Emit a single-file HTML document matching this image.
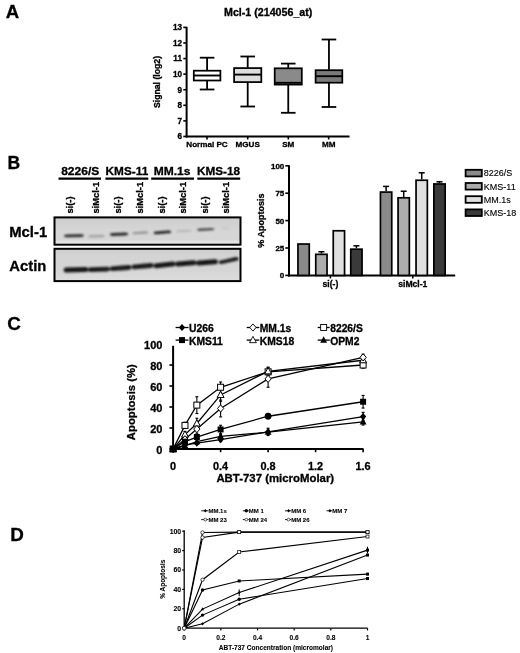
<!DOCTYPE html>
<html><head><meta charset="utf-8"><style>
html,body{margin:0;padding:0;background:#fff;}
body{width:520px;height:653px;overflow:hidden;}
svg{display:block;font-family:"Liberation Sans",sans-serif;filter:grayscale(1) blur(0.3px);}
text[font-weight="bold"]{stroke:#000;stroke-width:0.3px;}
text.sm{stroke-width:0.08px;}
text[font-weight="normal"]{stroke:#000;stroke-width:0.12px;}
</style></head><body>
<svg width="520" height="653" viewBox="0 0 520 653">
<rect width="520" height="653" fill="#fff"/>
<text x="5.8" y="17.9" font-size="18.6" text-anchor="start" font-weight="bold" >A</text>
<text x="224" y="15.6" font-size="10" text-anchor="start" font-weight="bold"  textLength="88.4" lengthAdjust="spacingAndGlyphs">Mcl-1 (214056_at)</text>
<line x1="186.6" y1="26.8" x2="186.6" y2="137.46" stroke="#000" stroke-width="2"/>
<line x1="185.6" y1="136.46" x2="349.5" y2="136.46" stroke="#000" stroke-width="2"/>
<line x1="183.3" y1="136.46" x2="186.6" y2="136.46" stroke="#000" stroke-width="1.6"/>
<text x="182" y="139.36" font-size="8.2" text-anchor="end" font-weight="bold" >6</text>
<line x1="183.3" y1="120.88" x2="186.6" y2="120.88" stroke="#000" stroke-width="1.6"/>
<text x="182" y="123.78" font-size="8.2" text-anchor="end" font-weight="bold" >7</text>
<line x1="183.3" y1="105.3" x2="186.6" y2="105.3" stroke="#000" stroke-width="1.6"/>
<text x="182" y="108.2" font-size="8.2" text-anchor="end" font-weight="bold" >8</text>
<line x1="183.3" y1="89.72" x2="186.6" y2="89.72" stroke="#000" stroke-width="1.6"/>
<text x="182" y="92.62" font-size="8.2" text-anchor="end" font-weight="bold" >9</text>
<line x1="183.3" y1="74.14" x2="186.6" y2="74.14" stroke="#000" stroke-width="1.6"/>
<text x="182" y="77.04" font-size="8.2" text-anchor="end" font-weight="bold" >10</text>
<line x1="183.3" y1="58.56" x2="186.6" y2="58.56" stroke="#000" stroke-width="1.6"/>
<text x="182" y="61.46" font-size="8.2" text-anchor="end" font-weight="bold" >11</text>
<line x1="183.3" y1="42.98" x2="186.6" y2="42.98" stroke="#000" stroke-width="1.6"/>
<text x="182" y="45.88" font-size="8.2" text-anchor="end" font-weight="bold" >12</text>
<line x1="183.3" y1="27.4" x2="186.6" y2="27.4" stroke="#000" stroke-width="1.6"/>
<text x="182" y="30.3" font-size="8.2" text-anchor="end" font-weight="bold" >13</text>
<text transform="translate(159.5,82) rotate(-90)" font-size="8.7" text-anchor="middle" font-weight="bold">Signal (log2)</text>
<line x1="207" y1="136.46" x2="207" y2="139.46" stroke="#000" stroke-width="1.6"/>
<text x="207" y="147.2" font-size="8.1" text-anchor="middle" font-weight="bold" >Normal PC</text>
<line x1="247.7" y1="136.46" x2="247.7" y2="139.46" stroke="#000" stroke-width="1.6"/>
<text x="247.7" y="147.2" font-size="8.1" text-anchor="middle" font-weight="bold" >MGUS</text>
<line x1="288.3" y1="136.46" x2="288.3" y2="139.46" stroke="#000" stroke-width="1.6"/>
<text x="288.3" y="147.2" font-size="8.1" text-anchor="middle" font-weight="bold" >SM</text>
<line x1="328.7" y1="136.46" x2="328.7" y2="139.46" stroke="#000" stroke-width="1.6"/>
<text x="328.7" y="147.2" font-size="8.1" text-anchor="middle" font-weight="bold" >MM</text>
<line x1="207.1" y1="57.7" x2="207.1" y2="70.2" stroke="#000" stroke-width="1.8"/>
<line x1="207.1" y1="80.8" x2="207.1" y2="89.5" stroke="#000" stroke-width="1.8"/>
<line x1="199.8" y1="57.7" x2="214.4" y2="57.7" stroke="#000" stroke-width="1.8"/>
<line x1="199.8" y1="89.5" x2="214.4" y2="89.5" stroke="#000" stroke-width="1.8"/>
<rect x="193.8" y="70.7" width="26.6" height="9.8" fill="#ffffff" stroke="#000" stroke-width="1.75"/>
<line x1="193.8" y1="75.5" x2="220.4" y2="75.5" stroke="#000" stroke-width="1.9"/>
<line x1="247.7" y1="56.5" x2="247.7" y2="67.6" stroke="#000" stroke-width="1.8"/>
<line x1="247.7" y1="82.4" x2="247.7" y2="106.5" stroke="#000" stroke-width="1.8"/>
<line x1="240.4" y1="56.5" x2="255" y2="56.5" stroke="#000" stroke-width="1.8"/>
<line x1="240.4" y1="106.5" x2="255" y2="106.5" stroke="#000" stroke-width="1.8"/>
<rect x="234.1" y="68.1" width="27.2" height="14" fill="#dedede" stroke="#000" stroke-width="1.75"/>
<line x1="234.1" y1="74.6" x2="261.3" y2="74.6" stroke="#000" stroke-width="1.9"/>
<line x1="288.25" y1="63.6" x2="288.25" y2="67.8" stroke="#000" stroke-width="1.8"/>
<line x1="288.25" y1="84.9" x2="288.25" y2="112.8" stroke="#000" stroke-width="1.8"/>
<line x1="280.95" y1="63.6" x2="295.55" y2="63.6" stroke="#000" stroke-width="1.8"/>
<line x1="280.95" y1="112.8" x2="295.55" y2="112.8" stroke="#000" stroke-width="1.8"/>
<rect x="274.7" y="68.3" width="27.1" height="16.3" fill="#8a8a8a" stroke="#000" stroke-width="1.75"/>
<line x1="274.7" y1="82.8" x2="301.8" y2="82.8" stroke="#000" stroke-width="1.9"/>
<line x1="328.95" y1="39.5" x2="328.95" y2="69.7" stroke="#000" stroke-width="1.8"/>
<line x1="328.95" y1="83" x2="328.95" y2="107" stroke="#000" stroke-width="1.8"/>
<line x1="321.65" y1="39.5" x2="336.25" y2="39.5" stroke="#000" stroke-width="1.8"/>
<line x1="321.65" y1="107" x2="336.25" y2="107" stroke="#000" stroke-width="1.8"/>
<rect x="315.6" y="70.2" width="26.7" height="12.5" fill="#7a7a7a" stroke="#000" stroke-width="1.75"/>
<line x1="315.6" y1="76.2" x2="342.3" y2="76.2" stroke="#000" stroke-width="1.9"/>
<text x="7.5" y="168.8" font-size="17.5" text-anchor="start" font-weight="bold" >B</text>
<text x="80.2" y="174.6" font-size="11.4" text-anchor="middle" font-weight="bold"  textLength="38.1" lengthAdjust="spacingAndGlyphs">8226/S</text>
<line x1="58.5" y1="178.6" x2="101" y2="178.6" stroke="#000" stroke-width="2.1"/>
<text x="126.9" y="174.6" font-size="11.4" text-anchor="middle" font-weight="bold"  textLength="42.6" lengthAdjust="spacingAndGlyphs">KMS-11</text>
<line x1="105.4" y1="178.6" x2="148.3" y2="178.6" stroke="#000" stroke-width="2.1"/>
<text x="172.1" y="174.6" font-size="11.4" text-anchor="middle" font-weight="bold"  textLength="36.8" lengthAdjust="spacingAndGlyphs">MM.1s</text>
<line x1="151.2" y1="178.6" x2="194" y2="178.6" stroke="#000" stroke-width="2.1"/>
<text x="218.5" y="174.6" font-size="11.4" text-anchor="middle" font-weight="bold"  textLength="43.1" lengthAdjust="spacingAndGlyphs">KMS-18</text>
<line x1="197.3" y1="178.6" x2="240.2" y2="178.6" stroke="#000" stroke-width="2.1"/>
<text transform="translate(72.8,213.6) rotate(-90)" font-size="9.4" text-anchor="start" font-weight="bold">si(-)</text>
<text transform="translate(98.8,213.6) rotate(-90)" font-size="9.4" text-anchor="start" font-weight="bold">siMcl-1</text>
<text transform="translate(120.9,213.6) rotate(-90)" font-size="9.4" text-anchor="start" font-weight="bold">si(-)</text>
<text transform="translate(143,213.6) rotate(-90)" font-size="9.4" text-anchor="start" font-weight="bold">siMcl-1</text>
<text transform="translate(164.7,213.6) rotate(-90)" font-size="9.4" text-anchor="start" font-weight="bold">si(-)</text>
<text transform="translate(185.9,213.6) rotate(-90)" font-size="9.4" text-anchor="start" font-weight="bold">siMcl-1</text>
<text transform="translate(207.6,213.6) rotate(-90)" font-size="9.4" text-anchor="start" font-weight="bold">si(-)</text>
<text transform="translate(229.2,213.6) rotate(-90)" font-size="9.4" text-anchor="start" font-weight="bold">siMcl-1</text>
<text x="9.3" y="237" font-size="14.8" text-anchor="start" font-weight="bold" >Mcl-1</text>
<text x="9.3" y="270.8" font-size="14.8" text-anchor="start" font-weight="bold" >Actin</text>
<defs><linearGradient id="g1" x1="0" y1="0" x2="0" y2="1"><stop offset="0" stop-color="#cecece"/><stop offset="0.5" stop-color="#d6d6d6"/><stop offset="0.82" stop-color="#d6d6d6"/><stop offset="0.9" stop-color="#e2e2e2"/><stop offset="1" stop-color="#e4e4e4"/></linearGradient><linearGradient id="g2" x1="0" y1="0" x2="0" y2="1"><stop offset="0" stop-color="#cbcbcb"/><stop offset="0.2" stop-color="#d3d3d3"/><stop offset="0.7" stop-color="#d6d6d6"/><stop offset="1" stop-color="#dcdcdc"/></linearGradient><filter id="bl" x="-20%" y="-100%" width="140%" height="300%"><feGaussianBlur stdDeviation="0.8"/></filter></defs>
<rect x="54.5" y="217.4" width="186" height="27.3" fill="url(#g1)" stroke="#000" stroke-width="2"/>
<rect x="54.5" y="248.8" width="186" height="32.3" fill="url(#g2)" stroke="#000" stroke-width="2"/>
<g filter="url(#bl)">
<path d="M64,235.9 C64.66,234.45 66.2,234.45 67.3,234.45 L80.7,234.15 C81.8,234.15 83.34,234.15 84,235.6 C83.34,237.05 81.8,237.05 80.7,237.05 L67.3,237.35 C66.2,237.35 64.66,237.35 64,235.9 Z" fill="#2a2a2a"/>
<path d="M88,236.2 C88.66,235 90.2,235 91.3,235 L101.7,234.8 C102.8,234.8 104.34,234.8 105,236 C104.34,237.2 102.8,237.2 101.7,237.2 L91.3,237.4 C90.2,237.4 88.66,237.4 88,236.2 Z" fill="#a4a4a4"/>
<path d="M109.8,234.5 C110.46,233.1 112,233.1 113.1,233.1 L125,232.6 C126.1,232.6 127.64,232.6 128.3,234 C127.64,235.4 126.1,235.4 125,235.4 L113.1,235.9 C112,235.9 110.46,235.9 109.8,234.5 Z" fill="#2a2a2a"/>
<path d="M132.2,233.1 C132.86,231.9 134.4,231.9 135.5,231.9 L145.2,231.3 C146.3,231.3 147.84,231.3 148.5,232.5 C147.84,233.7 146.3,233.7 145.2,233.7 L135.5,234.3 C134.4,234.3 132.86,234.3 132.2,233.1 Z" fill="#959595"/>
<path d="M153.5,232.9 C154.16,231.5 155.7,231.5 156.8,231.5 L167.9,230.5 C169,230.5 170.54,230.5 171.2,231.9 C170.54,233.3 169,233.3 167.9,233.3 L156.8,234.3 C155.7,234.3 154.16,234.3 153.5,232.9 Z" fill="#222222"/>
<path d="M175.8,231.3 C176.46,230.3 178,230.3 179.1,230.3 L188.7,229.8 C189.8,229.8 191.34,229.8 192,230.8 C191.34,231.8 189.8,231.8 188.7,231.8 L179.1,232.3 C178,232.3 176.46,232.3 175.8,231.3 Z" fill="#b6b6b6"/>
<path d="M197,229.7 C197.66,228.5 199.2,228.5 200.3,228.5 L211.2,227.9 C212.3,227.9 213.84,227.9 214.5,229.1 C213.84,230.3 212.3,230.3 211.2,230.3 L200.3,230.9 C199.2,230.9 197.66,230.9 197,229.7 Z" fill="#484848"/>
<path d="M220.5,228.6 C221.16,227.8 222.7,227.8 223.8,227.8 L226.7,227.5 C227.8,227.5 229.34,227.5 230,228.3 C229.34,229.1 227.8,229.1 226.7,229.1 L223.8,229.4 C222.7,229.4 221.16,229.4 220.5,228.6 Z" fill="#c4c4c4"/>
<path d="M63.5,269.9 C64.16,267.4 65.7,267.4 66.8,267.4 L85.1,267 C86.2,267 87.74,267 88.4,269.5 C87.74,272 86.2,272 85.1,272 L66.8,272.4 C65.7,272.4 64.16,272.4 63.5,269.9 Z" fill="#181818"/>
<path d="M87.8,269.7 C88.46,267.3 90,267.3 91.1,267.3 L106.9,266.7 C108,266.7 109.54,266.7 110.2,269.1 C109.54,271.5 108,271.5 106.9,271.5 L91.1,272.1 C90,272.1 88.46,272.1 87.8,269.7 Z" fill="#1a1a1a"/>
<path d="M109.8,268.7 C110.46,266.3 112,266.3 113.1,266.3 L128.3,265.1 C129.4,265.1 130.94,265.1 131.6,267.5 C130.94,269.9 129.4,269.9 128.3,269.9 L113.1,271.1 C112,271.1 110.46,271.1 109.8,268.7 Z" fill="#1a1a1a"/>
<path d="M131.4,266.9 C132.06,264.5 133.6,264.5 134.7,264.5 L150.5,263.1 C151.6,263.1 153.14,263.1 153.8,265.5 C153.14,267.9 151.6,267.9 150.5,267.9 L134.7,269.3 C133.6,269.3 132.06,269.3 131.4,266.9 Z" fill="#1a1a1a"/>
<path d="M153.4,265.7 C154.06,263.2 155.6,263.2 156.7,263.2 L172.3,261.6 C173.4,261.6 174.94,261.6 175.6,264.1 C174.94,266.6 173.4,266.6 172.3,266.6 L156.7,268.2 C155.6,268.2 154.06,268.2 153.4,265.7 Z" fill="#181818"/>
<path d="M175,264.1 C175.66,261.6 177.2,261.6 178.3,261.6 L193.1,260.2 C194.2,260.2 195.74,260.2 196.4,262.7 C195.74,265.2 194.2,265.2 193.1,265.2 L178.3,266.6 C177.2,266.6 175.66,266.6 175,264.1 Z" fill="#181818"/>
<path d="M195.8,263.1 C196.46,260.6 198,260.6 199.1,260.6 L214.7,259.2 C215.8,259.2 217.34,259.2 218,261.7 C217.34,264.2 215.8,264.2 214.7,264.2 L199.1,265.6 C198,265.6 196.46,265.6 195.8,263.1 Z" fill="#181818"/>
<path d="M218.6,262.2 C219.26,260.3 220.8,260.3 221.9,260.3 L235.5,257.1 C236.6,257.1 238.14,257.1 238.8,259 C238.14,260.9 236.6,260.9 235.5,260.9 L221.9,264.1 C220.8,264.1 219.26,264.1 218.6,262.2 Z" fill="#1e1e1e"/>
</g>
<line x1="289" y1="165.2" x2="289" y2="276.4" stroke="#000" stroke-width="2"/>
<line x1="288" y1="275.4" x2="455.2" y2="275.4" stroke="#000" stroke-width="2"/>
<line x1="285.3" y1="275.4" x2="289" y2="275.4" stroke="#000" stroke-width="1.6"/>
<text x="284.3" y="278.3" font-size="8" text-anchor="end" font-weight="bold" >0</text>
<line x1="285.3" y1="248" x2="289" y2="248" stroke="#000" stroke-width="1.6"/>
<text x="284.3" y="250.9" font-size="8" text-anchor="end" font-weight="bold" >25</text>
<line x1="285.3" y1="220.6" x2="289" y2="220.6" stroke="#000" stroke-width="1.6"/>
<text x="284.3" y="223.5" font-size="8" text-anchor="end" font-weight="bold" >50</text>
<line x1="285.3" y1="193.2" x2="289" y2="193.2" stroke="#000" stroke-width="1.6"/>
<text x="284.3" y="196.1" font-size="8" text-anchor="end" font-weight="bold" >75</text>
<line x1="285.3" y1="165.8" x2="289" y2="165.8" stroke="#000" stroke-width="1.6"/>
<text x="284.3" y="168.7" font-size="8" text-anchor="end" font-weight="bold" >100</text>
<text transform="translate(264.2,220.6) rotate(-90)" font-size="9" text-anchor="middle" font-weight="bold">% Apoptosis</text>
<rect x="297.95" y="244.03" width="11.3" height="31.37" fill="#8a8a8a" stroke="#000" stroke-width="1.7"/>
<line x1="321.4" y1="251.73" x2="321.4" y2="253.48" stroke="#000" stroke-width="1.5"/>
<line x1="318.4" y1="251.73" x2="324.4" y2="251.73" stroke="#000" stroke-width="1.5"/>
<rect x="315.75" y="254.33" width="11.3" height="21.07" fill="#acacac" stroke="#000" stroke-width="1.7"/>
<rect x="333.25" y="230.77" width="11.3" height="44.63" fill="#e0e0e0" stroke="#000" stroke-width="1.7"/>
<line x1="356.4" y1="245.81" x2="356.4" y2="248.33" stroke="#000" stroke-width="1.5"/>
<line x1="353.4" y1="245.81" x2="359.4" y2="245.81" stroke="#000" stroke-width="1.5"/>
<rect x="350.75" y="249.18" width="11.3" height="26.22" fill="#3a3a3a" stroke="#000" stroke-width="1.7"/>
<line x1="386.1" y1="186.4" x2="386.1" y2="191.23" stroke="#000" stroke-width="1.5"/>
<line x1="383.1" y1="186.4" x2="389.1" y2="186.4" stroke="#000" stroke-width="1.5"/>
<rect x="380.45" y="192.08" width="11.3" height="83.32" fill="#8a8a8a" stroke="#000" stroke-width="1.7"/>
<line x1="403.7" y1="191.23" x2="403.7" y2="196.93" stroke="#000" stroke-width="1.5"/>
<line x1="400.7" y1="191.23" x2="406.7" y2="191.23" stroke="#000" stroke-width="1.5"/>
<rect x="398.05" y="197.78" width="11.3" height="77.62" fill="#acacac" stroke="#000" stroke-width="1.7"/>
<line x1="421.7" y1="172.81" x2="421.7" y2="179.39" stroke="#000" stroke-width="1.5"/>
<line x1="418.7" y1="172.81" x2="424.7" y2="172.81" stroke="#000" stroke-width="1.5"/>
<rect x="416.05" y="180.24" width="11.3" height="95.16" fill="#e0e0e0" stroke="#000" stroke-width="1.7"/>
<line x1="439.5" y1="181.8" x2="439.5" y2="183.12" stroke="#000" stroke-width="1.5"/>
<line x1="436.5" y1="181.8" x2="442.5" y2="181.8" stroke="#000" stroke-width="1.5"/>
<rect x="433.85" y="183.97" width="11.3" height="91.43" fill="#3a3a3a" stroke="#000" stroke-width="1.7"/>
<line x1="330.4" y1="275.4" x2="330.4" y2="278.4" stroke="#000" stroke-width="1.5"/>
<text x="330.4" y="286.8" font-size="8.6" text-anchor="middle" font-weight="bold" >si(-)</text>
<line x1="412.8" y1="275.4" x2="412.8" y2="278.4" stroke="#000" stroke-width="1.5"/>
<text x="412.8" y="286.8" font-size="8.6" text-anchor="middle" font-weight="bold" >siMcl-1</text>
<rect x="465.6" y="169.8" width="16.2" height="6.6" fill="#8a8a8a" stroke="#000" stroke-width="1.8"/>
<text x="483.8" y="176.3" font-size="9" text-anchor="start" font-weight="normal" >8226/S</text>
<rect x="465.6" y="183" width="16.2" height="6.6" fill="#acacac" stroke="#000" stroke-width="1.8"/>
<text x="483.8" y="189.5" font-size="9" text-anchor="start" font-weight="normal" >KMS-11</text>
<rect x="465.6" y="196.2" width="16.2" height="6.6" fill="#e0e0e0" stroke="#000" stroke-width="1.8"/>
<text x="483.8" y="202.7" font-size="9" text-anchor="start" font-weight="normal" >MM.1s</text>
<rect x="465.6" y="209.4" width="16.2" height="6.6" fill="#3a3a3a" stroke="#000" stroke-width="1.8"/>
<text x="483.8" y="215.9" font-size="9" text-anchor="start" font-weight="normal" >KMS-18</text>
<text x="7.3" y="330.3" font-size="18.8" text-anchor="start" font-weight="bold" >C</text>
<line x1="175.6" y1="327.5" x2="188.5" y2="327.5" stroke="#000" stroke-width="1.3"/>
<path d="M182,323.9 L185.15,327.5 L182,331.1 L178.85,327.5 Z" fill="#000"/>
<text x="189" y="331.9" font-size="10.3" text-anchor="start" font-weight="bold" >U266</text>
<line x1="246.7" y1="327.5" x2="259.3" y2="327.5" stroke="#000" stroke-width="1.3"/>
<path d="M252.95,323.9 L256.1,327.5 L252.95,331.1 L249.8,327.5 Z" fill="#fff" stroke="#000" stroke-width="0.9"/>
<text x="259.8" y="331.9" font-size="10.3" text-anchor="start" font-weight="bold" >MM.1s</text>
<line x1="317.7" y1="327.5" x2="329.7" y2="327.5" stroke="#000" stroke-width="1.3"/>
<rect x="320.65" y="324.5" width="6" height="6" fill="#fff" stroke="#000" stroke-width="0.9"/>
<text x="330.2" y="331.9" font-size="10.3" text-anchor="start" font-weight="bold" >8226/S</text>
<line x1="175.6" y1="340.1" x2="188.5" y2="340.1" stroke="#000" stroke-width="1.3"/>
<rect x="179" y="337.1" width="6" height="6" fill="#000"/>
<text x="189" y="344.5" font-size="10.3" text-anchor="start" font-weight="bold" >KMS11</text>
<line x1="246.7" y1="340.1" x2="259.3" y2="340.1" stroke="#000" stroke-width="1.3"/>
<path d="M252.95,336.35 L256.4,342.65 L249.5,342.65 Z" fill="#fff" stroke="#000" stroke-width="0.9"/>
<text x="259.8" y="344.5" font-size="10.3" text-anchor="start" font-weight="bold" >KMS18</text>
<line x1="317.7" y1="340.1" x2="329.7" y2="340.1" stroke="#000" stroke-width="1.3"/>
<path d="M323.65,336.35 L327.1,342.65 L320.2,342.65 Z" fill="#000"/>
<text x="330.2" y="344.5" font-size="10.3" text-anchor="start" font-weight="bold" >OPM2</text>
<line x1="173.1" y1="345.8" x2="173.1" y2="450" stroke="#000" stroke-width="2"/>
<line x1="172.1" y1="449" x2="363.5" y2="449" stroke="#000" stroke-width="2"/>
<line x1="169.4" y1="449" x2="173.1" y2="449" stroke="#000" stroke-width="1.6"/>
<text x="162.4" y="454" font-size="11" text-anchor="end" font-weight="bold" >0</text>
<line x1="169.4" y1="428" x2="173.1" y2="428" stroke="#000" stroke-width="1.6"/>
<text x="162.4" y="433" font-size="11" text-anchor="end" font-weight="bold" >20</text>
<line x1="169.4" y1="407" x2="173.1" y2="407" stroke="#000" stroke-width="1.6"/>
<text x="162.4" y="412" font-size="11" text-anchor="end" font-weight="bold" >40</text>
<line x1="169.4" y1="386" x2="173.1" y2="386" stroke="#000" stroke-width="1.6"/>
<text x="162.4" y="391" font-size="11" text-anchor="end" font-weight="bold" >60</text>
<line x1="169.4" y1="365" x2="173.1" y2="365" stroke="#000" stroke-width="1.6"/>
<text x="162.4" y="370" font-size="11" text-anchor="end" font-weight="bold" >80</text>
<text x="162.4" y="349" font-size="11" text-anchor="end" font-weight="bold" >100</text>
<line x1="173.1" y1="449" x2="173.1" y2="452.2" stroke="#000" stroke-width="1.6"/>
<text x="173.1" y="469.6" font-size="10.9" text-anchor="middle" font-weight="bold" >0</text>
<line x1="220.6" y1="449" x2="220.6" y2="452.2" stroke="#000" stroke-width="1.6"/>
<text x="220.6" y="469.6" font-size="10.9" text-anchor="middle" font-weight="bold" >0.4</text>
<line x1="268.1" y1="449" x2="268.1" y2="452.2" stroke="#000" stroke-width="1.6"/>
<text x="268.1" y="469.6" font-size="10.9" text-anchor="middle" font-weight="bold" >0.8</text>
<line x1="315.6" y1="449" x2="315.6" y2="452.2" stroke="#000" stroke-width="1.6"/>
<text x="315.6" y="469.6" font-size="10.9" text-anchor="middle" font-weight="bold" >1.2</text>
<line x1="363.1" y1="449" x2="363.1" y2="452.2" stroke="#000" stroke-width="1.6"/>
<text x="363.1" y="469.6" font-size="10.9" text-anchor="middle" font-weight="bold" >1.6</text>
<text x="216.4" y="481.6" font-size="11.4" text-anchor="start" font-weight="bold" >ABT-737 (microMolar)</text>
<text transform="translate(135,402.2) rotate(-90)" font-size="11.3" text-anchor="middle" font-weight="bold">Apoptosis (%)</text>
<line x1="184.97" y1="422.23" x2="184.97" y2="428.52" stroke="#000" stroke-width="1.1"/>
<line x1="183.47" y1="422.23" x2="186.47" y2="422.23" stroke="#000" stroke-width="1.1"/>
<line x1="183.47" y1="428.52" x2="186.47" y2="428.52" stroke="#000" stroke-width="1.1"/>
<line x1="196.85" y1="396.71" x2="196.85" y2="413.51" stroke="#000" stroke-width="1.1"/>
<line x1="195.35" y1="396.71" x2="198.35" y2="396.71" stroke="#000" stroke-width="1.1"/>
<line x1="195.35" y1="413.51" x2="198.35" y2="413.51" stroke="#000" stroke-width="1.1"/>
<line x1="220.6" y1="382.01" x2="220.6" y2="392.51" stroke="#000" stroke-width="1.1"/>
<line x1="219.1" y1="382.01" x2="222.1" y2="382.01" stroke="#000" stroke-width="1.1"/>
<line x1="219.1" y1="392.51" x2="222.1" y2="392.51" stroke="#000" stroke-width="1.1"/>
<line x1="268.1" y1="367.62" x2="268.1" y2="376.02" stroke="#000" stroke-width="1.1"/>
<line x1="266.6" y1="367.62" x2="269.6" y2="367.62" stroke="#000" stroke-width="1.1"/>
<line x1="266.6" y1="376.02" x2="269.6" y2="376.02" stroke="#000" stroke-width="1.1"/>
<line x1="363.1" y1="361.85" x2="363.1" y2="368.15" stroke="#000" stroke-width="1.1"/>
<line x1="361.6" y1="361.85" x2="364.6" y2="361.85" stroke="#000" stroke-width="1.1"/>
<line x1="361.6" y1="368.15" x2="364.6" y2="368.15" stroke="#000" stroke-width="1.1"/>
<line x1="184.97" y1="431.46" x2="184.97" y2="437.76" stroke="#000" stroke-width="1.1"/>
<line x1="183.47" y1="431.46" x2="186.47" y2="431.46" stroke="#000" stroke-width="1.1"/>
<line x1="183.47" y1="437.76" x2="186.47" y2="437.76" stroke="#000" stroke-width="1.1"/>
<line x1="196.85" y1="418.24" x2="196.85" y2="428.74" stroke="#000" stroke-width="1.1"/>
<line x1="195.35" y1="418.24" x2="198.35" y2="418.24" stroke="#000" stroke-width="1.1"/>
<line x1="195.35" y1="428.74" x2="198.35" y2="428.74" stroke="#000" stroke-width="1.1"/>
<line x1="220.6" y1="388.62" x2="220.6" y2="401.23" stroke="#000" stroke-width="1.1"/>
<line x1="219.1" y1="388.62" x2="222.1" y2="388.62" stroke="#000" stroke-width="1.1"/>
<line x1="219.1" y1="401.23" x2="222.1" y2="401.23" stroke="#000" stroke-width="1.1"/>
<line x1="268.1" y1="367.1" x2="268.1" y2="375.5" stroke="#000" stroke-width="1.1"/>
<line x1="266.6" y1="367.1" x2="269.6" y2="367.1" stroke="#000" stroke-width="1.1"/>
<line x1="266.6" y1="375.5" x2="269.6" y2="375.5" stroke="#000" stroke-width="1.1"/>
<line x1="363.1" y1="357.12" x2="363.1" y2="363.43" stroke="#000" stroke-width="1.1"/>
<line x1="361.6" y1="357.12" x2="364.6" y2="357.12" stroke="#000" stroke-width="1.1"/>
<line x1="361.6" y1="363.43" x2="364.6" y2="363.43" stroke="#000" stroke-width="1.1"/>
<line x1="184.97" y1="436.08" x2="184.97" y2="442.38" stroke="#000" stroke-width="1.1"/>
<line x1="183.47" y1="436.08" x2="186.47" y2="436.08" stroke="#000" stroke-width="1.1"/>
<line x1="183.47" y1="442.38" x2="186.47" y2="442.38" stroke="#000" stroke-width="1.1"/>
<line x1="196.85" y1="424.85" x2="196.85" y2="433.25" stroke="#000" stroke-width="1.1"/>
<line x1="195.35" y1="424.85" x2="198.35" y2="424.85" stroke="#000" stroke-width="1.1"/>
<line x1="195.35" y1="433.25" x2="198.35" y2="433.25" stroke="#000" stroke-width="1.1"/>
<line x1="220.6" y1="400.07" x2="220.6" y2="416.87" stroke="#000" stroke-width="1.1"/>
<line x1="219.1" y1="400.07" x2="222.1" y2="400.07" stroke="#000" stroke-width="1.1"/>
<line x1="219.1" y1="416.87" x2="222.1" y2="416.87" stroke="#000" stroke-width="1.1"/>
<line x1="268.1" y1="370.46" x2="268.1" y2="387.26" stroke="#000" stroke-width="1.1"/>
<line x1="266.6" y1="370.46" x2="269.6" y2="370.46" stroke="#000" stroke-width="1.1"/>
<line x1="266.6" y1="387.26" x2="269.6" y2="387.26" stroke="#000" stroke-width="1.1"/>
<line x1="363.1" y1="354.19" x2="363.1" y2="360.49" stroke="#000" stroke-width="1.1"/>
<line x1="361.6" y1="354.19" x2="364.6" y2="354.19" stroke="#000" stroke-width="1.1"/>
<line x1="361.6" y1="360.49" x2="364.6" y2="360.49" stroke="#000" stroke-width="1.1"/>
<line x1="184.97" y1="439.55" x2="184.97" y2="443.75" stroke="#000" stroke-width="1.1"/>
<line x1="183.47" y1="439.55" x2="186.47" y2="439.55" stroke="#000" stroke-width="1.1"/>
<line x1="183.47" y1="443.75" x2="186.47" y2="443.75" stroke="#000" stroke-width="1.1"/>
<line x1="196.85" y1="434.93" x2="196.85" y2="439.13" stroke="#000" stroke-width="1.1"/>
<line x1="195.35" y1="434.93" x2="198.35" y2="434.93" stroke="#000" stroke-width="1.1"/>
<line x1="195.35" y1="439.13" x2="198.35" y2="439.13" stroke="#000" stroke-width="1.1"/>
<line x1="220.6" y1="425.27" x2="220.6" y2="433.67" stroke="#000" stroke-width="1.1"/>
<line x1="219.1" y1="425.27" x2="222.1" y2="425.27" stroke="#000" stroke-width="1.1"/>
<line x1="219.1" y1="433.67" x2="222.1" y2="433.67" stroke="#000" stroke-width="1.1"/>
<line x1="268.1" y1="414.14" x2="268.1" y2="418.34" stroke="#000" stroke-width="1.1"/>
<line x1="266.6" y1="414.14" x2="269.6" y2="414.14" stroke="#000" stroke-width="1.1"/>
<line x1="266.6" y1="418.34" x2="269.6" y2="418.34" stroke="#000" stroke-width="1.1"/>
<line x1="363.1" y1="395.45" x2="363.1" y2="408.05" stroke="#000" stroke-width="1.1"/>
<line x1="361.6" y1="395.45" x2="364.6" y2="395.45" stroke="#000" stroke-width="1.1"/>
<line x1="361.6" y1="408.05" x2="364.6" y2="408.05" stroke="#000" stroke-width="1.1"/>
<line x1="220.6" y1="437.45" x2="220.6" y2="441.65" stroke="#000" stroke-width="1.1"/>
<line x1="219.1" y1="437.45" x2="222.1" y2="437.45" stroke="#000" stroke-width="1.1"/>
<line x1="219.1" y1="441.65" x2="222.1" y2="441.65" stroke="#000" stroke-width="1.1"/>
<line x1="268.1" y1="428.21" x2="268.1" y2="435.56" stroke="#000" stroke-width="1.1"/>
<line x1="266.6" y1="428.21" x2="269.6" y2="428.21" stroke="#000" stroke-width="1.1"/>
<line x1="266.6" y1="435.56" x2="269.6" y2="435.56" stroke="#000" stroke-width="1.1"/>
<line x1="363.1" y1="412.36" x2="363.1" y2="420.75" stroke="#000" stroke-width="1.1"/>
<line x1="361.6" y1="412.36" x2="364.6" y2="412.36" stroke="#000" stroke-width="1.1"/>
<line x1="361.6" y1="420.75" x2="364.6" y2="420.75" stroke="#000" stroke-width="1.1"/>
<line x1="196.85" y1="439.55" x2="196.85" y2="443.75" stroke="#000" stroke-width="1.1"/>
<line x1="195.35" y1="439.55" x2="198.35" y2="439.55" stroke="#000" stroke-width="1.1"/>
<line x1="195.35" y1="443.75" x2="198.35" y2="443.75" stroke="#000" stroke-width="1.1"/>
<line x1="220.6" y1="434.3" x2="220.6" y2="438.5" stroke="#000" stroke-width="1.1"/>
<line x1="219.1" y1="434.3" x2="222.1" y2="434.3" stroke="#000" stroke-width="1.1"/>
<line x1="219.1" y1="438.5" x2="222.1" y2="438.5" stroke="#000" stroke-width="1.1"/>
<line x1="268.1" y1="430.1" x2="268.1" y2="434.3" stroke="#000" stroke-width="1.1"/>
<line x1="266.6" y1="430.1" x2="269.6" y2="430.1" stroke="#000" stroke-width="1.1"/>
<line x1="266.6" y1="434.3" x2="269.6" y2="434.3" stroke="#000" stroke-width="1.1"/>
<line x1="363.1" y1="418.76" x2="363.1" y2="425.06" stroke="#000" stroke-width="1.1"/>
<line x1="361.6" y1="418.76" x2="364.6" y2="418.76" stroke="#000" stroke-width="1.1"/>
<line x1="361.6" y1="425.06" x2="364.6" y2="425.06" stroke="#000" stroke-width="1.1"/>
<polyline points="173.1,449 184.97,425.38 196.85,405.11 220.6,387.26 268.1,371.82 363.1,365" fill="none" stroke="#000" stroke-width="1.3"/>
<polyline points="173.1,449 184.97,434.62 196.85,423.49 220.6,394.93 268.1,371.3 363.1,360.27" fill="none" stroke="#000" stroke-width="1.3"/>
<polyline points="173.1,449 184.97,439.24 196.85,429.05 220.6,408.47 268.1,378.86 363.1,357.33" fill="none" stroke="#000" stroke-width="1.3"/>
<polyline points="173.1,449 184.97,441.65 196.85,437.03 220.6,429.47 268.1,416.24 363.1,401.75" fill="none" stroke="#000" stroke-width="1.3"/>
<polyline points="173.1,449 184.97,444.8 196.85,443.23 220.6,439.55 268.1,431.88 363.1,416.56" fill="none" stroke="#000" stroke-width="1.3"/>
<polyline points="173.1,449 184.97,445.85 196.85,441.65 220.6,436.4 268.1,432.2 363.1,421.91" fill="none" stroke="#000" stroke-width="1.3"/>
<rect x="170.1" y="446" width="6" height="6" fill="#fff" stroke="#000" stroke-width="1"/>
<rect x="181.97" y="422.38" width="6" height="6" fill="#fff" stroke="#000" stroke-width="1"/>
<rect x="193.85" y="402.11" width="6" height="6" fill="#fff" stroke="#000" stroke-width="1"/>
<rect x="217.6" y="384.26" width="6" height="6" fill="#fff" stroke="#000" stroke-width="1"/>
<rect x="265.1" y="368.82" width="6" height="6" fill="#fff" stroke="#000" stroke-width="1"/>
<rect x="360.1" y="362" width="6" height="6" fill="#fff" stroke="#000" stroke-width="1"/>
<path d="M173.1,445.25 L176.55,451.55 L169.65,451.55 Z" fill="#fff" stroke="#000" stroke-width="1"/>
<path d="M184.97,430.87 L188.42,437.17 L181.53,437.17 Z" fill="#fff" stroke="#000" stroke-width="1"/>
<path d="M196.85,419.74 L200.3,426.04 L193.4,426.04 Z" fill="#fff" stroke="#000" stroke-width="1"/>
<path d="M220.6,391.18 L224.05,397.48 L217.15,397.48 Z" fill="#fff" stroke="#000" stroke-width="1"/>
<path d="M268.1,367.55 L271.55,373.85 L264.65,373.85 Z" fill="#fff" stroke="#000" stroke-width="1"/>
<path d="M363.1,356.52 L366.55,362.82 L359.65,362.82 Z" fill="#fff" stroke="#000" stroke-width="1"/>
<path d="M173.1,445.4 L176.25,449 L173.1,452.6 L169.95,449 Z" fill="#fff" stroke="#000" stroke-width="1"/>
<path d="M184.97,435.63 L188.12,439.24 L184.97,442.84 L181.82,439.24 Z" fill="#fff" stroke="#000" stroke-width="1"/>
<path d="M196.85,425.45 L200,429.05 L196.85,432.65 L193.7,429.05 Z" fill="#fff" stroke="#000" stroke-width="1"/>
<path d="M220.6,404.87 L223.75,408.47 L220.6,412.07 L217.45,408.47 Z" fill="#fff" stroke="#000" stroke-width="1"/>
<path d="M268.1,375.26 L271.25,378.86 L268.1,382.46 L264.95,378.86 Z" fill="#fff" stroke="#000" stroke-width="1"/>
<path d="M363.1,353.73 L366.25,357.33 L363.1,360.94 L359.95,357.33 Z" fill="#fff" stroke="#000" stroke-width="1"/>
<rect x="170.1" y="446" width="6" height="6" fill="#000"/>
<rect x="181.97" y="438.65" width="6" height="6" fill="#000"/>
<rect x="193.85" y="434.03" width="6" height="6" fill="#000"/>
<rect x="217.6" y="426.47" width="6" height="6" fill="#000"/>
<circle cx="268.1" cy="416.24" r="3.4" fill="#000"/>
<rect x="360.1" y="398.75" width="6" height="6" fill="#000"/>
<path d="M173.1,445.4 L176.25,449 L173.1,452.6 L169.95,449 Z" fill="#000"/>
<path d="M184.97,441.2 L188.12,444.8 L184.97,448.4 L181.82,444.8 Z" fill="#000"/>
<path d="M196.85,439.62 L200,443.23 L196.85,446.83 L193.7,443.23 Z" fill="#000"/>
<path d="M220.6,435.95 L223.75,439.55 L220.6,443.15 L217.45,439.55 Z" fill="#000"/>
<path d="M268.1,428.28 L271.25,431.88 L268.1,435.49 L264.95,431.88 Z" fill="#000"/>
<path d="M363.1,412.95 L366.25,416.56 L363.1,420.16 L359.95,416.56 Z" fill="#000"/>
<path d="M173.1,445.25 L176.55,451.55 L169.65,451.55 Z" fill="#000"/>
<path d="M184.97,442.1 L188.42,448.4 L181.53,448.4 Z" fill="#000"/>
<path d="M196.85,437.9 L200.3,444.2 L193.4,444.2 Z" fill="#000"/>
<path d="M220.6,432.65 L224.05,438.95 L217.15,438.95 Z" fill="#000"/>
<path d="M268.1,428.45 L271.55,434.75 L264.65,434.75 Z" fill="#000"/>
<path d="M363.1,418.16 L366.55,424.46 L359.65,424.46 Z" fill="#000"/>
<text x="10.3" y="541.2" font-size="18.8" text-anchor="start" font-weight="bold" >D</text>
<line x1="184.2" y1="530.3" x2="184.2" y2="628.8" stroke="#000" stroke-width="1.3"/>
<line x1="183.6" y1="628.2" x2="367.6" y2="628.2" stroke="#000" stroke-width="1.3"/>
<line x1="182.2" y1="628.2" x2="184.2" y2="628.2" stroke="#000" stroke-width="1.2"/>
<text x="181.2" y="630.6" font-size="6.9" text-anchor="end" font-weight="bold"  class="sm">0</text>
<line x1="182.2" y1="608.8" x2="184.2" y2="608.8" stroke="#000" stroke-width="1.2"/>
<text x="181.2" y="611.2" font-size="6.9" text-anchor="end" font-weight="bold"  class="sm">20</text>
<line x1="182.2" y1="589.4" x2="184.2" y2="589.4" stroke="#000" stroke-width="1.2"/>
<text x="181.2" y="591.8" font-size="6.9" text-anchor="end" font-weight="bold"  class="sm">40</text>
<line x1="182.2" y1="570" x2="184.2" y2="570" stroke="#000" stroke-width="1.2"/>
<text x="181.2" y="572.4" font-size="6.9" text-anchor="end" font-weight="bold"  class="sm">60</text>
<line x1="182.2" y1="550.6" x2="184.2" y2="550.6" stroke="#000" stroke-width="1.2"/>
<text x="181.2" y="553" font-size="6.9" text-anchor="end" font-weight="bold"  class="sm">80</text>
<line x1="182.2" y1="531.2" x2="184.2" y2="531.2" stroke="#000" stroke-width="1.2"/>
<text x="181.2" y="533.6" font-size="6.9" text-anchor="end" font-weight="bold"  class="sm">100</text>
<line x1="184.2" y1="628.2" x2="184.2" y2="630.4" stroke="#000" stroke-width="1.2"/>
<text x="184.2" y="639.6" font-size="6.6" text-anchor="middle" font-weight="bold"  class="sm">0</text>
<line x1="220.86" y1="628.2" x2="220.86" y2="630.4" stroke="#000" stroke-width="1.2"/>
<text x="220.86" y="639.6" font-size="6.6" text-anchor="middle" font-weight="bold"  class="sm">0.2</text>
<line x1="257.52" y1="628.2" x2="257.52" y2="630.4" stroke="#000" stroke-width="1.2"/>
<text x="257.52" y="639.6" font-size="6.6" text-anchor="middle" font-weight="bold"  class="sm">0.4</text>
<line x1="294.18" y1="628.2" x2="294.18" y2="630.4" stroke="#000" stroke-width="1.2"/>
<text x="294.18" y="639.6" font-size="6.6" text-anchor="middle" font-weight="bold"  class="sm">0.6</text>
<line x1="330.84" y1="628.2" x2="330.84" y2="630.4" stroke="#000" stroke-width="1.2"/>
<text x="330.84" y="639.6" font-size="6.6" text-anchor="middle" font-weight="bold"  class="sm">0.8</text>
<line x1="367.5" y1="628.2" x2="367.5" y2="630.4" stroke="#000" stroke-width="1.2"/>
<text x="367.5" y="639.6" font-size="6.6" text-anchor="middle" font-weight="bold"  class="sm">1</text>
<text x="218.8" y="649.6" font-size="6.55" text-anchor="start" font-weight="bold"  class="sm">ABT-737 Concentration (micromolar)</text>
<text transform="translate(164.8,579.3) rotate(-90)" font-size="6.5" text-anchor="middle" font-weight="bold" class="sm">% Apoptosis</text>
<line x1="201.2" y1="510.8" x2="208.4" y2="510.8" stroke="#000" stroke-width="0.9"/>
<path d="M205.3,509.12 L206.77,510.8 L205.3,512.48 L203.83,510.8 Z" fill="#000"/>
<text x="208.4" y="513" font-size="6" text-anchor="start" font-weight="bold"  class="sm">MM.1s</text>
<line x1="242.8" y1="510.8" x2="248.8" y2="510.8" stroke="#000" stroke-width="0.9"/>
<circle cx="246.3" cy="510.8" r="1.7" fill="#000"/>
<text x="248.8" y="513" font-size="6" text-anchor="start" font-weight="bold"  class="sm">MM 1</text>
<line x1="285" y1="510.8" x2="291.2" y2="510.8" stroke="#000" stroke-width="0.9"/>
<path d="M288.6,509.12 L290.07,510.8 L288.6,512.48 L287.13,510.8 Z" fill="#000"/>
<text x="291.2" y="513" font-size="6" text-anchor="start" font-weight="bold"  class="sm">MM 6</text>
<line x1="326.5" y1="510.8" x2="332.3" y2="510.8" stroke="#000" stroke-width="0.9"/>
<path d="M329.9,509.12 L331.37,510.8 L329.9,512.48 L328.43,510.8 Z" fill="#000"/>
<text x="332.3" y="513" font-size="6" text-anchor="start" font-weight="bold"  class="sm">MM 7</text>
<line x1="201.2" y1="519.6" x2="208.4" y2="519.6" stroke="#000" stroke-width="0.9"/>
<circle cx="205.3" cy="519.6" r="1.4" fill="#fff" stroke="#000" stroke-width="0.6"/>
<text x="208.4" y="521.8" font-size="6" text-anchor="start" font-weight="bold"  class="sm">MM 23</text>
<line x1="242.8" y1="519.6" x2="248.8" y2="519.6" stroke="#000" stroke-width="0.9"/>
<circle cx="246.3" cy="519.6" r="1.4" fill="#fff" stroke="#000" stroke-width="0.6"/>
<text x="248.8" y="521.8" font-size="6" text-anchor="start" font-weight="bold"  class="sm">MM 24</text>
<line x1="285" y1="519.6" x2="291.2" y2="519.6" stroke="#000" stroke-width="0.9"/>
<circle cx="288.6" cy="519.6" r="1.4" fill="#fff" stroke="#000" stroke-width="0.6"/>
<text x="291.2" y="521.8" font-size="6" text-anchor="start" font-weight="bold"  class="sm">MM 26</text>
<polyline points="184.2,628.2 202.53,532.56 239.19,532.17 367.5,532.17" fill="none" stroke="#000" stroke-width="1.1"/>
<polyline points="184.2,628.2 202.53,537.51 239.19,532.17 367.5,532.17" fill="none" stroke="#000" stroke-width="1.1"/>
<polyline points="184.2,628.2 202.53,579.7 239.19,552.06 367.5,536.54" fill="none" stroke="#000" stroke-width="1.1"/>
<polyline points="184.2,628.2 202.53,589.98 239.19,580.96 367.5,574.17" fill="none" stroke="#000" stroke-width="1.1"/>
<polyline points="184.2,628.2 202.53,609.09 239.19,592.6 367.5,550.12" fill="none" stroke="#000" stroke-width="1.1"/>
<polyline points="184.2,628.2 202.53,615.11 239.19,599.2 367.5,578.54" fill="none" stroke="#000" stroke-width="1.1"/>
<polyline points="184.2,628.2 202.53,623.84 239.19,604.14 367.5,555.06" fill="none" stroke="#000" stroke-width="1.1"/>
<line x1="239.19" y1="589.4" x2="239.19" y2="596.19" stroke="#000" stroke-width="1"/>
<line x1="367.5" y1="546.72" x2="367.5" y2="553.51" stroke="#000" stroke-width="1"/>
<circle cx="202.53" cy="532.56" r="1.7" fill="#fff" stroke="#000" stroke-width="0.7"/>
<rect x="237.69" y="530.67" width="3" height="3" fill="#fff" stroke="#000" stroke-width="0.7"/>
<rect x="366" y="530.67" width="3" height="3" fill="#fff" stroke="#000" stroke-width="0.7"/>
<circle cx="202.53" cy="537.51" r="1.7" fill="#fff" stroke="#000" stroke-width="0.7"/>
<rect x="237.69" y="530.67" width="3" height="3" fill="#fff" stroke="#000" stroke-width="0.7"/>
<rect x="366" y="530.67" width="3" height="3" fill="#fff" stroke="#000" stroke-width="0.7"/>
<circle cx="202.53" cy="579.7" r="1.7" fill="#fff" stroke="#000" stroke-width="0.7"/>
<rect x="237.69" y="550.56" width="3" height="3" fill="#fff" stroke="#000" stroke-width="0.7"/>
<rect x="366" y="535.04" width="3" height="3" fill="#fff" stroke="#000" stroke-width="0.7"/>
<circle cx="202.53" cy="589.98" r="1.7" fill="#000"/>
<rect x="237.69" y="579.46" width="3" height="3" fill="#000"/>
<rect x="366" y="572.67" width="3" height="3" fill="#000"/>
<path d="M202.53,607.34 L204.14,610.28 L200.92,610.28 Z" fill="#000"/>
<path d="M239.19,590.92 L240.66,592.6 L239.19,594.28 L237.72,592.6 Z" fill="#000"/>
<rect x="366" y="548.62" width="3" height="3" fill="#000"/>
<circle cx="202.53" cy="615.11" r="1.7" fill="#000"/>
<circle cx="239.19" cy="599.2" r="1.7" fill="#000"/>
<rect x="366" y="577.04" width="3" height="3" fill="#000"/>
<path d="M202.53,622.16 L204,623.84 L202.53,625.51 L201.06,623.84 Z" fill="#000"/>
<path d="M239.19,602.46 L240.66,604.14 L239.19,605.82 L237.72,604.14 Z" fill="#000"/>
<rect x="366" y="553.56" width="3" height="3" fill="#000"/>
<circle cx="184.2" cy="628.2" r="1.9" fill="#fff" stroke="#000" stroke-width="0.8"/>
</svg>
</body></html>
